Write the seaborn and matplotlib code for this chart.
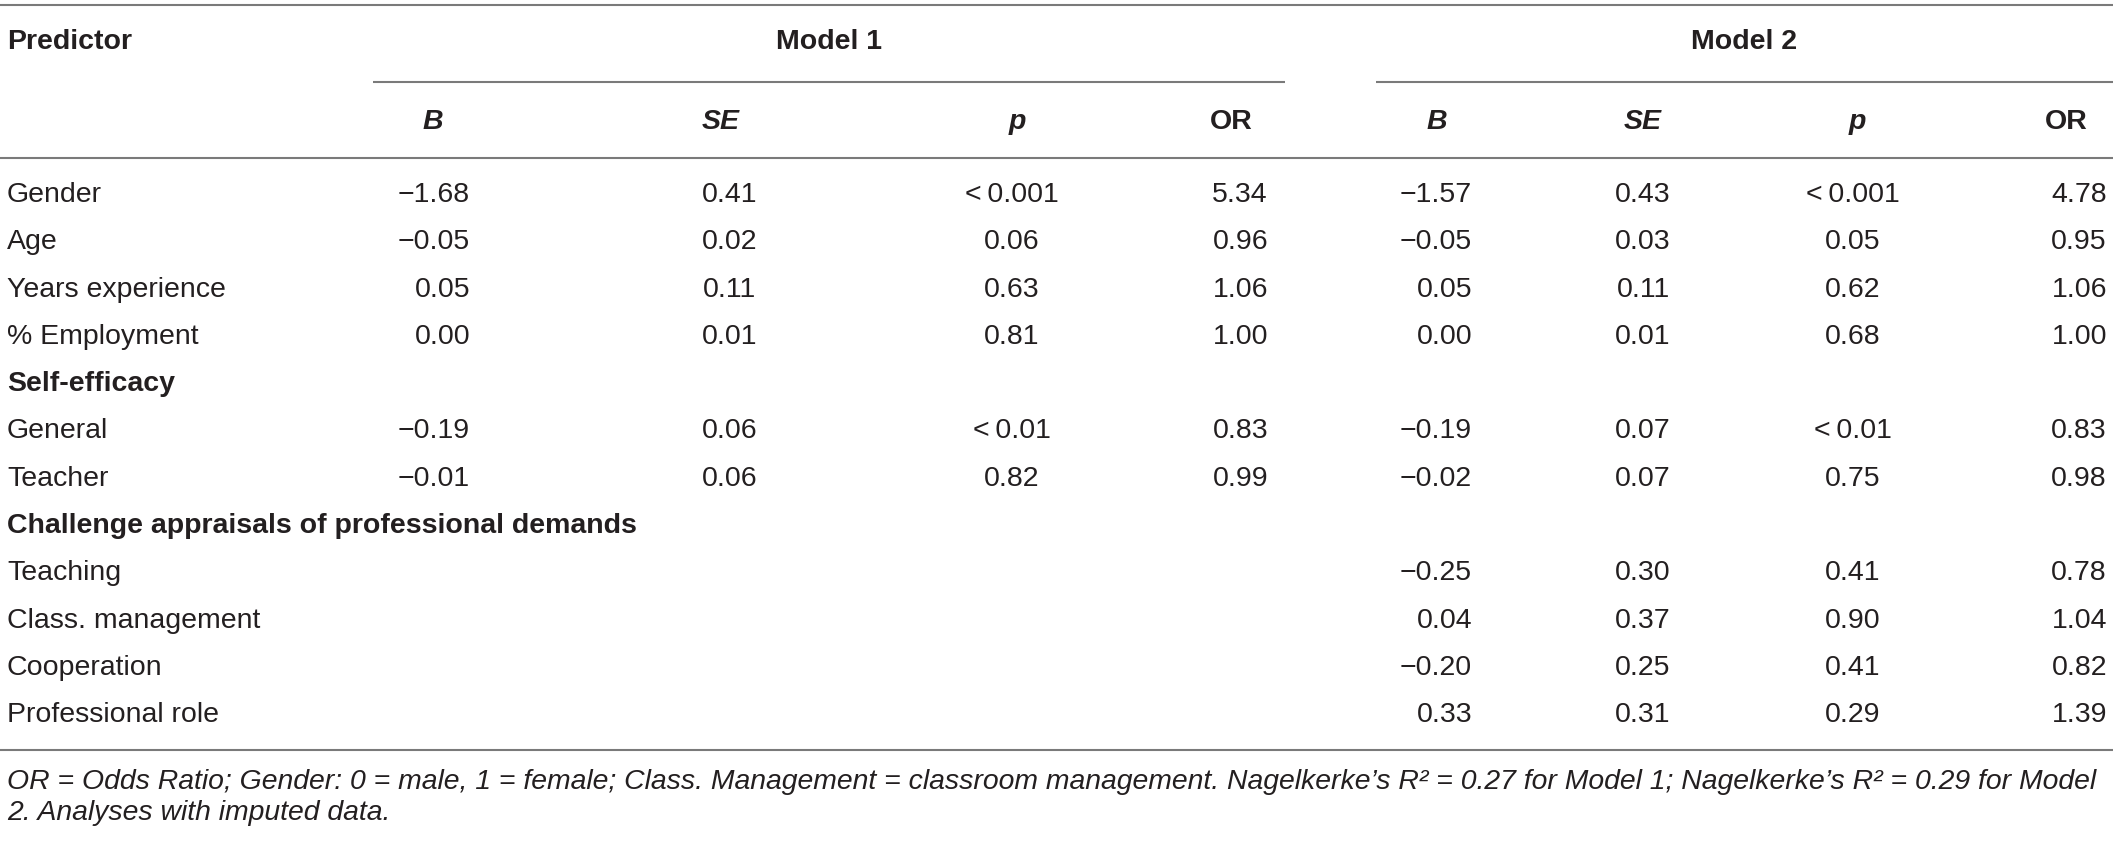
import matplotlib
matplotlib.use("Agg")
import matplotlib.pyplot as plt
import seaborn as sns

sns.set_theme(style="white")
plt.rcParams['font.family'] = ['Liberation Sans', 'DejaVu Sans']

# ---- data ----
predictors = ["Gender", "Age", "Years experience", "% Employment",
              "Self-efficacy", "General", "Teacher",
              "Challenge appraisals of professional demands",
              "Teaching", "Class. management", "Cooperation", "Professional role"]
is_group = [False, False, False, False, True, False, False, True, False, False, False, False]

b1 = ["−1.68", "−0.05", "0.05", "0.00", None, "−0.19", "−0.01", None, None, None, None, None]
se1 = ["0.41", "0.02", "0.11", "0.01", None, "0.06", "0.06", None, None, None, None, None]
p1 = ["<\u20090.001", "0.06", "0.63", "0.81", None, "<\u20090.01", "0.82", None, None, None, None, None]
or1 = ["5.34", "0.96", "1.06", "1.00", None, "0.83", "0.99", None, None, None, None, None]

b2 = ["−1.57", "−0.05", "0.05", "0.00", None, "−0.19", "−0.02", None, "−0.25", "0.04", "−0.20", "0.33"]
se2 = ["0.43", "0.03", "0.11", "0.01", None, "0.07", "0.07", None, "0.30", "0.37", "0.25", "0.31"]
p2 = ["<\u20090.001", "0.05", "0.62", "0.68", None, "<\u20090.01", "0.75", None, "0.41", "0.90", "0.41", "0.29"]
or2 = ["4.78", "0.95", "1.06", "1.00", None, "0.83", "0.98", None, "0.78", "1.04", "0.82", "1.39"]

col_headers = ["B", "SE", "p", "OR"]
model_labels = ["Model 1", "Model 2"]
footnote1 = ("OR = Odds Ratio; Gender: 0 = male, 1 = female; Class. Management = classroom management. "
             "Nagelkerke\u2019s R\u00b2 = 0.27 for Model 1; Nagelkerke\u2019s R\u00b2 = 0.29 for Model")
footnote2 = "2. Analyses with imputed data."

# ---- layout (pixel coordinates) ----
W, H = 2118, 842
fig = plt.figure(figsize=(W / 100, H / 100), dpi=100)
ax = fig.add_axes([0, 0, 1, 1])
ax.set_xlim(0, W)
ax.set_ylim(H, 0)
ax.axis("off")

txt = "#231f20"
line_c = "#7a7a7a"
fs = 20.5
fs_b = 20.5

# rules
ax.hlines([5, 158, 750], 0, 2113, color=line_c, lw=1.5)
ax.hlines(82, 373, 1285, color=line_c, lw=1.5)
ax.hlines(82, 1376, 2113, color=line_c, lw=1.5)

# header
ax.text(7, 42, "Predictor", fontsize=fs_b, fontweight="bold", color=txt, va="center", ha="left")
ax.text(829, 42, model_labels[0], fontsize=fs_b, fontweight="bold", color=txt, va="center", ha="center")
ax.text(1744, 42, model_labels[1], fontsize=fs_b, fontweight="bold", color=txt, va="center", ha="center")

head_x = [[433, 721, 1017, 1231], [1437, 1643, 1857, 2066]]
for m in range(2):
    for j, h in enumerate(col_headers):
        style = "normal" if h == "OR" else "italic"
        ax.text(head_x[m][j], 122, h, fontsize=fs_b, fontweight="bold", fontstyle=style,
                color=txt, va="center", ha="center")

# body
row_y0, row_dy = 195, 47.3
models = [[b1, se1, p1, or1], [b2, se2, p2, or2]]
# (x, ha) per column
col_pos = [[(470, "right"), (730, "center"), (1012, "center"), (1268, "right")],
           [(1472, "right"), (1643, "center"), (1853, "center"), (2107, "right")]]
for i, name in enumerate(predictors):
    y = row_y0 + i * row_dy
    ax.text(7, y, name, fontsize=fs, color=txt, va="center", ha="left",
            fontweight="bold" if is_group[i] else "normal")
    for m in range(2):
        for j, arr in enumerate(models[m]):
            v = arr[i]
            if v is None:
                continue
            x, ha = col_pos[m][j]
            ax.text(x, y, v, fontsize=fs, color=txt, va="center", ha=ha)

# footnote (fit first line to width)
t1 = ax.text(7, 782, footnote1, fontsize=fs, fontstyle="italic", color=txt, va="center", ha="left")
fig.canvas.draw()
r = fig.canvas.get_renderer()
w = t1.get_window_extent(r).width
fs_fn = fs * (2093 / w)
t1.set_fontsize(fs_fn)
ax.text(7, 813, footnote2, fontsize=fs_fn, fontstyle="italic", color=txt, va="center", ha="left")

fig.savefig("out.png", dpi=100)
